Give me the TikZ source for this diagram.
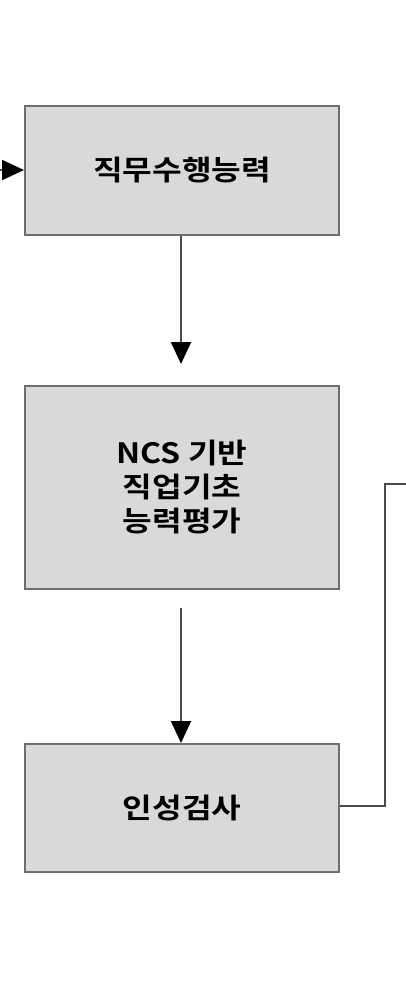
\documentclass[tikz,border=0pt]{standalone}
\usepackage{fontspec}
\usepackage{graphicx}
\newfontfamily\kr{Noto Sans CJK KR}[BoldFont={* Bold}]
\usetikzlibrary{arrows.meta}
\definecolor{boxfill}{HTML}{D9D9D9}
\definecolor{boxedge}{HTML}{6E6E6E}
\definecolor{linec}{HTML}{4A4A4A}
\newcommand{\widetxt}[1]{\scalebox{1.15}[1]{#1}}
\begin{document}
\begin{tikzpicture}[x=1pt,y=-1pt,
  stepbox/.style={draw=boxedge,fill=boxfill,line width=2pt,minimum width=314pt,anchor=north west,inner sep=0pt,font=\kr\bfseries\fontsize{28}{34}\selectfont,align=center},
  conn/.style={draw=linec,line width=2pt},
  arr/.style={conn,-{Triangle[length=22pt,width=20pt,color=black]}}]
\useasboundingbox (0,0) rectangle (406,984);
\node[stepbox,minimum height=129pt] (b1) at (24,105) {\widetxt{직무수행능력}};
\node[stepbox,minimum height=203pt] (b2) at (24,385) {\widetxt{NCS 기반}\\\widetxt{직업기초}\\\widetxt{능력평가}};
\node[stepbox,minimum height=128pt] (b3) at (24,743) {\raisebox{-5pt}{\widetxt{인성검사}}};
\coordinate (l0) at (-10,170);
\coordinate (a1) at (181,364);
\coordinate (a2s) at (181,608);
\coordinate (r1) at (385,806);
\coordinate (r2) at (385,484);
\coordinate (r3) at (408,484);
\draw[arr] (l0) -- (b1.west |- l0);
\draw[arr] (b1.south -| a1) -- (a1);
\draw[arr] (a2s) -- (b3.north -| a2s);
\draw[conn] (b3.east |- r1) -- (r1) -- (r2) -- (r3);
\end{tikzpicture}
\end{document}
